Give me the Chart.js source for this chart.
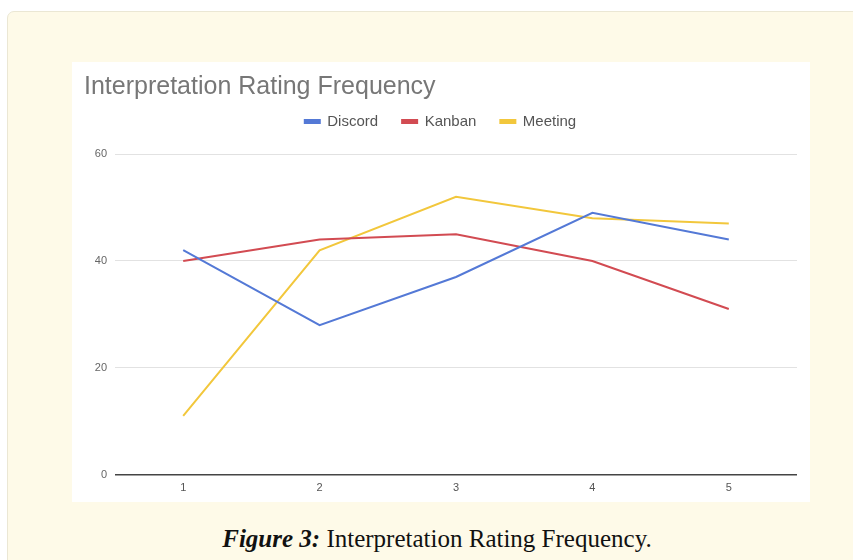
<!DOCTYPE html>
<html>
<head>
<meta charset="utf-8">
<script src="https://cdn.jsdelivr.net/npm/chart.js@4.4.1/dist/chart.umd.min.js"></script>
<style>
  html, body { margin: 0; padding: 0; background: #ffffff; }
  body { width: 853px; height: 560px; position: relative; overflow: hidden; }
  #box {
    position: absolute; left: 7px; top: 11px; width: 860px; height: 570px;
    background: #fefae8; border: 1px solid #ebe7d4; border-radius: 7px;
  }
  #panel {
    position: absolute; left: 72px; top: 62px; width: 738px; height: 440px;
    background: #ffffff;
  }
  #caption {
    position: absolute; left: 137px; width: 600px; top: 524px; text-align: center;
    line-height: 30px; white-space: nowrap;
    font-family: "Liberation Serif", serif; font-size: 25px; color: #111;
  }
  #caption b { font-style: italic; }
</style>
</head>
<body>
<div id="box"></div>
<div id="panel"><canvas id="chart" width="738" height="440"></canvas></div>
<div id="caption"><b>Figure 3:</b> Interpretation Rating Frequency.</div>
<script>
const ratings = ['1', '2', '3', '4', '5'];
const discord = [42, 28, 37, 49, 44];
const kanban = [40, 44, 45, 40, 31];
const meeting = [11, 42, 52, 48, 47];
const yTicks = [0, 20, 40, 60];

// extra room under the legend, google sheets style
const legendMargin = {
    id: 'legendMargin',
    beforeInit(chart) {
        const fit = chart.legend.fit;
        chart.legend.fit = function () {
            fit.bind(chart.legend)();
            this.height += 15;
        };
    }
};

const ctx = document.getElementById('chart');
const lineChart = new Chart(ctx, {
    type: 'line',
    data: {
        labels: ratings,
        datasets: [
            { label: 'Discord', data: discord, borderColor: '#5479d6', backgroundColor: '#5479d6' },
            { label: 'Kanban', data: kanban, borderColor: '#d24b52', backgroundColor: '#d24b52' },
            { label: 'Meeting', data: meeting, borderColor: '#f2c73c', backgroundColor: '#f2c73c' }
        ]
    },
    plugins: [legendMargin],
    options: {
        responsive: false,
        animation: false,
        layout: { padding: { left: 12, right: 13, top: 0, bottom: 0 } },
        elements: {
            line: { borderWidth: 2, tension: 0 },
            point: { radius: 0 }
        },
        plugins: {
            title: {
                display: true,
                text: 'Interpretation Rating Frequency',
                align: 'start',
                color: '#777777',
                font: { family: 'Liberation Sans', size: 25, weight: 'normal' },
                padding: { top: 10, bottom: -12 }
            },
            legend: {
                display: true,
                labels: {
                    boxWidth: 15,
                    boxHeight: 3,
                    color: '#555555',
                    font: { family: 'Liberation Sans', size: 15 },
                    padding: 24
                }
            },
            tooltip: { enabled: false }
        },
        scales: {
            x: {
                offset: true,
                grid: { display: false, drawTicks: false },
                border: { display: false },
                ticks: {
                    color: '#555555',
                    padding: 7,
                    font: { family: 'Liberation Sans', size: 11 }
                }
            },
            y: {
                min: 0,
                max: 60,
                afterBuildTicks: (scale) => {
                    scale.ticks = yTicks.map(v => ({ value: v }));
                },
                afterFit: (scale) => { scale.width = 31; },
                grid: {
                    drawTicks: false,
                    color: (c) => c.tick && c.tick.value === 0 ? '#444444' : '#e2e2e2',
                    lineWidth: (c) => c.tick && c.tick.value === 0 ? 1.5 : 1
                },
                border: { display: false },
                ticks: {
                    color: '#666666',
                    padding: 8,
                    font: { family: 'Liberation Sans', size: 11 }
                }
            }
        }
    }
});
</script>
</body>
</html>
